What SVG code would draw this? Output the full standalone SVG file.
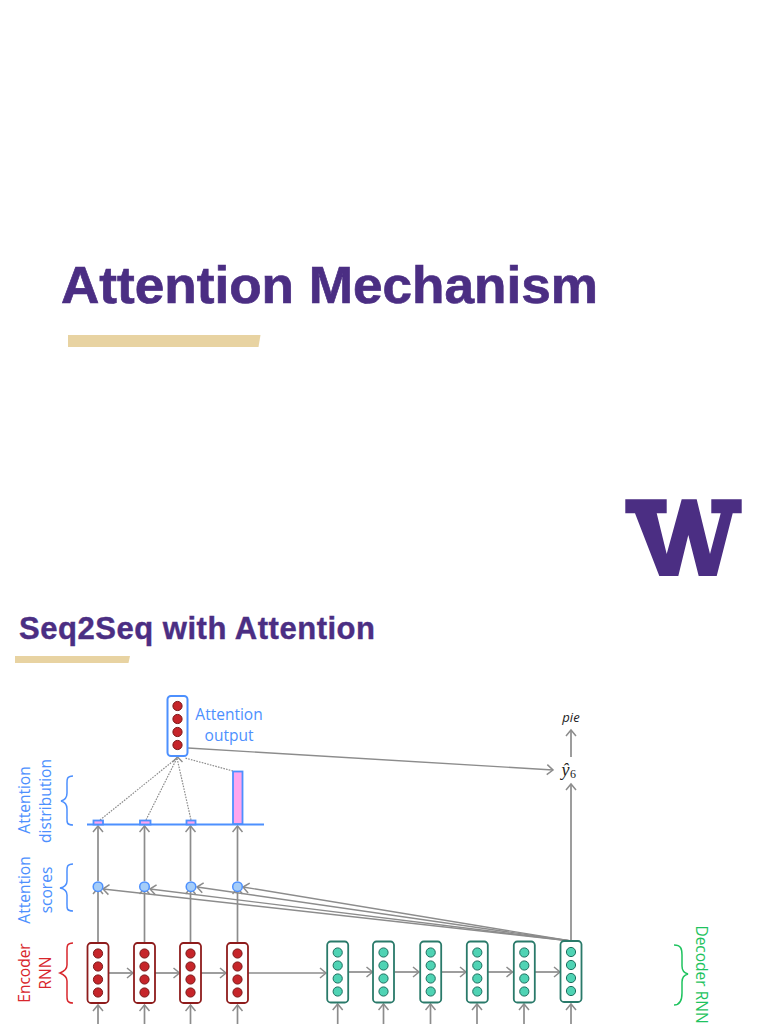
<svg xmlns="http://www.w3.org/2000/svg" xmlns:xlink="http://www.w3.org/1999/xlink" width="768" height="1024" viewBox="0 0 768 1024">
<style>
.h{font-family:"Liberation Sans",Arial,sans-serif;font-weight:700;fill:#4b2e83;stroke:#4b2e83}
.l{font-family:"Open Sans","Noto Sans",sans-serif;font-size:15.5px;text-anchor:middle}
.blue{fill:#4d90fe}.red{fill:#d8262c}.green{fill:#1fc35f}
.c{fill:none;stroke:#8c8c8c;stroke-width:1.7;marker-end:url(#a)}
.d{fill:none;stroke:#8c8c8c;stroke-width:1.2;stroke-dasharray:1.6 1.2}
.t{fill:none;stroke:#8c8c8c;stroke-width:1.4;marker-end:url(#a)}
.br{fill:none;stroke-width:1.5}
.ebox{fill:#fff;stroke:#8e1c1c;stroke-width:1.8}
.dbox{fill:#fff;stroke:#2a7a6a;stroke-width:1.8}
.edot{fill:#c6252a;stroke:#7a1616;stroke-width:1}
.ddot{fill:#4fd3b4;stroke:#1c6e5e;stroke-width:1}
.score{fill:#a5cdf8;stroke:#4d90fe;stroke-width:1.5}
.bar{fill:#ffa6ee;stroke:#4d90fe;stroke-width:1.8}
</style>
<defs>
<marker id="a" markerUnits="userSpaceOnUse" markerWidth="12" markerHeight="12" refX="9" refY="6" orient="auto"><path d="M3 1L9 6L3 11" fill="none" stroke="#8c8c8c" stroke-width="1.5"/></marker>
<g id="ed"><rect class="ebox" x="-10.5" y="-30" width="21" height="60" rx="3.5"/><circle class="edot" cy="-19.5" r="4.6"/><circle class="edot" cy="-6.5" r="4.6"/><circle class="edot" cy="6.5" r="4.6"/><circle class="edot" cy="19.5" r="4.6"/></g>
<g id="dd"><rect class="dbox" x="-10.5" y="-30.5" width="21" height="61" rx="3.5"/><circle class="ddot" cy="-19.5" r="4.6"/><circle class="ddot" cy="-6.5" r="4.6"/><circle class="ddot" cy="6.5" r="4.6"/><circle class="ddot" cy="19.5" r="4.6"/></g>
</defs>
<rect width="768" height="1024" fill="#fff"/>
<text id="title" class="h" x="61" y="303" font-size="52" stroke-width=".7" textLength="537" lengthAdjust="spacingAndGlyphs">Attention Mechanism</text>
<polygon id="title-rule" points="68,335 260.500,335 258.500,347 68,347" fill="#e8d3a2"/>
<polygon id="logo" fill="#4b2e83" points="625.300,499.300 666.700,499.300 666.700,513.300 656.700,513.300 666.700,554 681.700,499.300 696.700,499.300 710,554 720.700,513.300 711.300,513.300 711.300,499.300 741.700,499.300 741.700,513.300 732.700,513.300 716.700,576 698.700,576 688.300,535 678.300,576 659.300,576 635,513.300 625.300,513.300"/>
<text id="subtitle" class="h" x="19" y="638.500" font-size="31" stroke-width=".4" textLength="356" lengthAdjust="spacing">Seq2Seq with Attention</text>
<polygon id="subtitle-rule" points="15,656 130,656 128.500,663 15,663" fill="#e8d3a2"/>
<g id="connectors">
<path class="c" d="M98 942V888"/><path class="c" d="M144.500 942V888"/><path class="c" d="M190.500 942V888"/><path class="c" d="M237.500 942V888"/>
<path class="c" d="M98 881V826"/><path class="c" d="M144.500 881V826"/><path class="c" d="M190.500 881V826"/><path class="c" d="M237.500 881V826"/>
<path class="c" d="M98 1024V1005"/><path class="c" d="M144.500 1024V1005"/><path class="c" d="M190.500 1024V1005"/><path class="c" d="M237.500 1024V1005"/>
<path class="c" d="M337.700 1024V1004"/><path class="c" d="M383.500 1024V1004"/><path class="c" d="M430.500 1024V1004"/><path class="c" d="M477 1024V1004"/><path class="c" d="M524 1024V1004"/><path class="c" d="M571 1024V1004"/>
<path class="c" d="M109 973H133"/><path class="c" d="M155 973H179.500"/><path class="c" d="M201 973H226"/><path class="c" d="M248 973H326"/>
<path class="c" d="M348.500 972H372.500"/><path class="c" d="M394.500 972H419"/><path class="c" d="M441.500 972H466"/><path class="c" d="M488 972H512.500"/><path class="c" d="M535 972H560"/>
<path class="c" d="M571 941V784"/><path class="c" d="M571 757V730"/>
<path class="t" d="M188 748L553 770"/>
<path class="t" d="M571 941L103 889"/><path class="t" d="M571 941L150 889"/><path class="t" d="M571 941L197 887"/><path class="t" d="M571 941L243 887"/>
<path class="d" d="M100 820L177 758"/><path class="d" d="M146 820L177 758"/><path class="d" d="M191 820L177 758"/><path class="d" d="M233 771L185 758"/>
<path d="M172.500 762L177.500 757L182.500 762" fill="none" stroke="#8c8c8c" stroke-width="1.400"/>
</g>
<g id="attention-output"><rect x="167.500" y="696" width="20" height="60" rx="3.500" fill="#fff" stroke="#4d90fe" stroke-width="2"/><circle class="edot" cx="177.500" cy="706" r="4.600"/><circle class="edot" cx="177.500" cy="719" r="4.600"/><circle class="edot" cx="177.500" cy="732" r="4.600"/><circle class="edot" cx="177.500" cy="745" r="4.600"/></g>
<g id="attention-output-label"><text class="l blue" x="229" y="720">Attention</text><text class="l blue" x="229" y="741">output</text></g>
<g id="distribution">
<line x1="87" y1="824.500" x2="264" y2="824.500" stroke="#4d90fe" stroke-width="1.800"/>
<rect class="bar" x="93.500" y="820.500" width="9.500" height="4"/><rect class="bar" x="140" y="820.500" width="10.500" height="4"/><rect class="bar" x="186.500" y="820.500" width="9" height="4"/><rect class="bar" x="233" y="771.500" width="9.500" height="52.500"/>
</g>
<g id="scores"><circle class="score" cx="98" cy="886.700" r="4.800"/><circle class="score" cx="144.500" cy="886.700" r="4.800"/><circle class="score" cx="191" cy="886.700" r="4.800"/><circle class="score" cx="237.500" cy="886.700" r="4.800"/></g>
<g id="encoder"><use xlink:href="#ed" href="#ed" x="98" y="973"/><use xlink:href="#ed" href="#ed" x="144.500" y="973"/><use xlink:href="#ed" href="#ed" x="190.500" y="973"/><use xlink:href="#ed" href="#ed" x="237.500" y="973"/></g>
<g id="decoder"><use xlink:href="#dd" href="#dd" x="337.700" y="972"/><use xlink:href="#dd" href="#dd" x="383.500" y="972"/><use xlink:href="#dd" href="#dd" x="430.700" y="972"/><use xlink:href="#dd" href="#dd" x="477.300" y="972"/><use xlink:href="#dd" href="#dd" x="524.300" y="972"/><use xlink:href="#dd" href="#dd" x="571" y="971.500"/></g>
<g id="output-labels">
<text x="571" y="722" font-family="'Open Sans','Noto Sans',sans-serif" font-style="italic" font-size="13" text-anchor="middle" fill="#222">pie</text>
<text x="561.500" y="776" font-family="'Liberation Serif',serif" font-style="italic" font-size="18" fill="#222">ŷ</text>
<text x="570" y="778" font-family="'Liberation Serif',serif" font-size="12" fill="#222">6</text>
</g>
<g id="side-labels">
<text class="l blue" transform="translate(30,800) rotate(-90)">Attention</text>
<text class="l blue" transform="translate(51,801) rotate(-90)">distribution</text>
<text class="l blue" transform="translate(30,890) rotate(-90)">Attention</text>
<text class="l blue" transform="translate(52,890) rotate(-90)">scores</text>
<text class="l red" transform="translate(30,973) rotate(-90)">Encoder</text>
<text class="l red" transform="translate(51,973) rotate(-90)">RNN</text>
<text class="l green" transform="translate(696,974.500) rotate(90)">Decoder RNN</text>
<path class="br" stroke="#4d90fe" d="M73 776C66 776 67 780 67 786V793C67 798 65 800 61 801C65 802 67 804 67 809V816C67 822 66 825 73 825"/>
<path class="br" stroke="#4d90fe" d="M73 864C66 864 67 868 67 874V881C67 885 65 887 60 888C65 889 67 891 67 895V902C67 908 66 911 73 911"/>
<path class="br" stroke="#d8262c" d="M73 943C66 943 67 947 67 953V965C67 969 65 971 60 973C65 975 67 977 67 981V993C67 999 66 1003 73 1003"/>
<path class="br" stroke="#1fc35f" d="M674 945C681 945 682 949 682 955V966C682 970 684 973 688 974C684 975 682 978 682 982V993C682 999 681 1005 674 1005"/>
</g>
</svg>
